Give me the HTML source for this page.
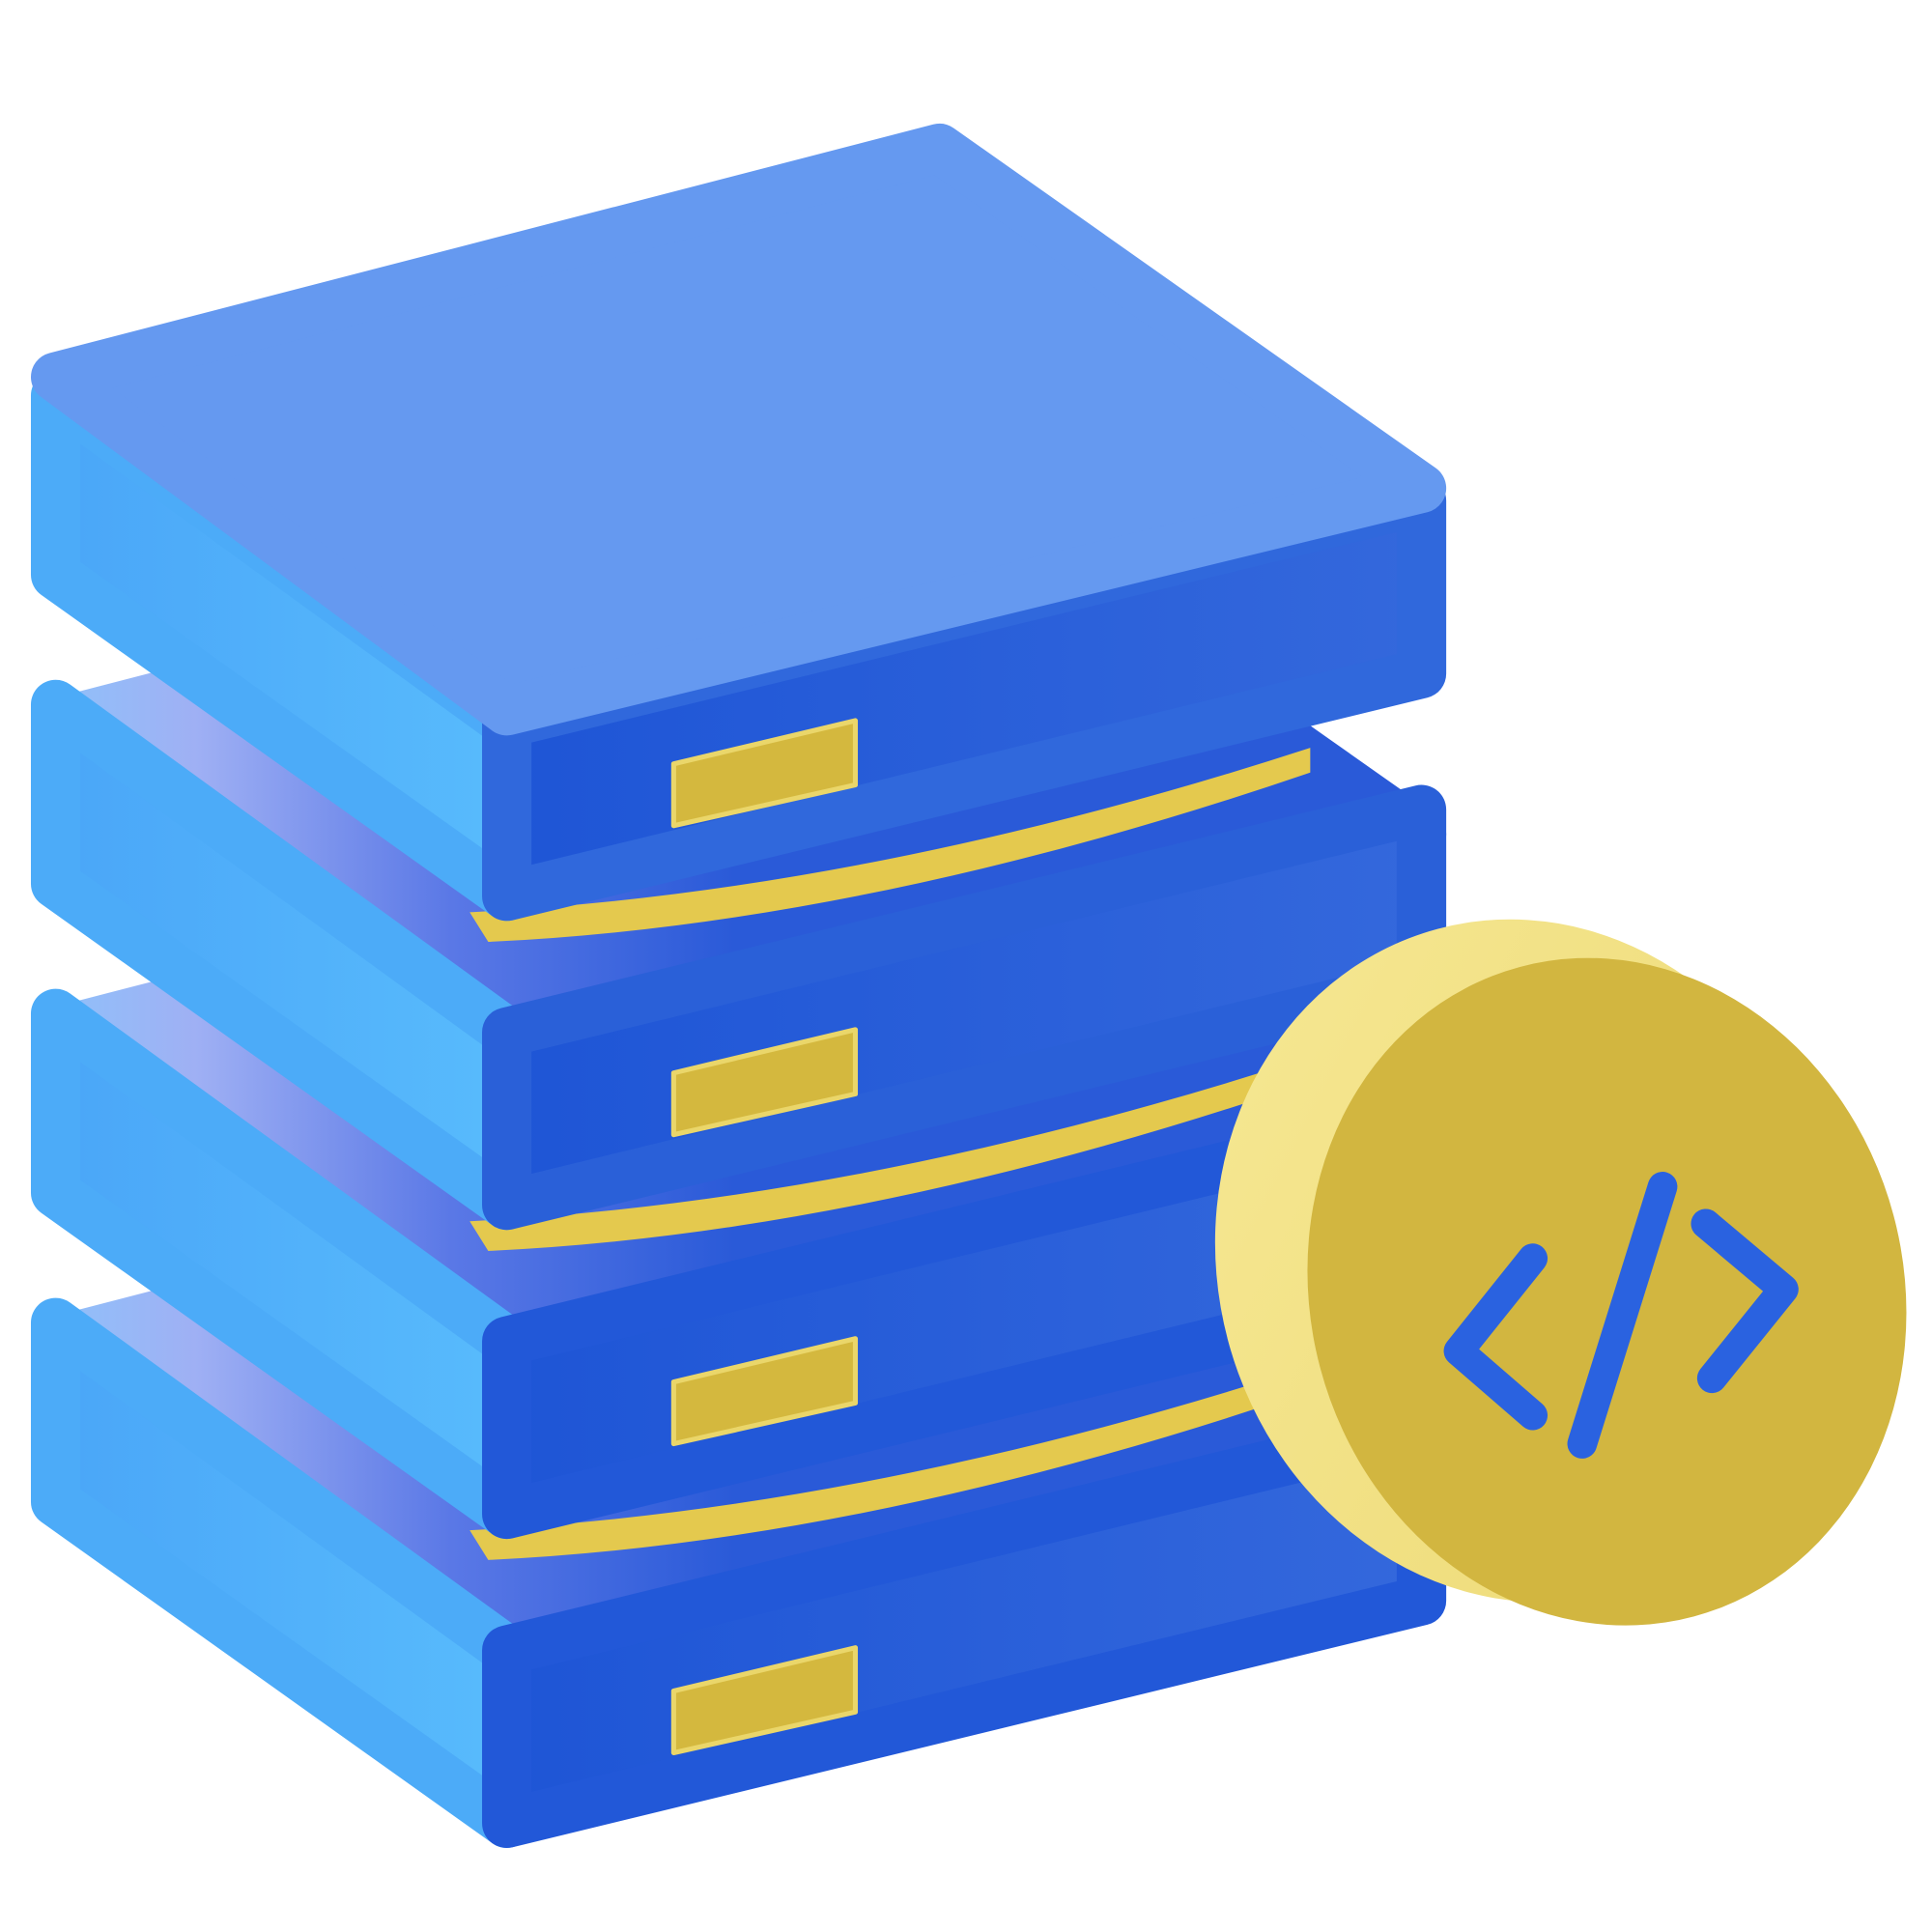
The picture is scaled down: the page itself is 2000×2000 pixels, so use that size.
<!DOCTYPE html>
<html><head><meta charset="utf-8"><style>html,body{margin:0;padding:0;background:#fff}svg{display:block}</style></head>
<body>
<svg width="2000" height="2000" viewBox="0 0 1563 1563" xmlns="http://www.w3.org/2000/svg">
<defs>
<linearGradient id="lf" x1="0" y1="0" x2="1" y2="0"><stop offset="0" stop-color="#4aa6f8"/><stop offset="1" stop-color="#58bbfc"/></linearGradient>
<linearGradient id="rf" x1="0" y1="0" x2="1" y2="0"><stop offset="0" stop-color="#1e55d6"/><stop offset="1" stop-color="#3468dc"/></linearGradient>
<linearGradient id="tf" gradientUnits="userSpaceOnUse" x1="20" y1="0" x2="1170" y2="0"><stop offset="0" stop-color="#8cc4fb"/><stop offset="0.12" stop-color="#9fb0f4"/><stop offset="0.3" stop-color="#5a78e6"/><stop offset="0.5" stop-color="#2a5ad8"/><stop offset="1" stop-color="#2a5ad8"/></linearGradient>
<linearGradient id="cs" x1="0" y1="0" x2="1" y2="1"><stop offset="0" stop-color="#f6e894"/><stop offset="1" stop-color="#ecd872"/></linearGradient>
</defs>
<g stroke-linejoin="round" stroke-width="40">
<g transform="translate(0,750)">
<polygon points="45,335 760,150 1150,425 410,605" fill="url(#tf)" stroke="url(#tf)"/>
<polygon points="45,320 410,585 410,725 45,465" fill="url(#lf)" stroke="#4cabf8"/>
<polygon points="410,585 1150,405 1150,545 410,725" fill="url(#rf)" stroke="#2258d8"/>
<polygon points="545,618 692,583 692,635 545,668" fill="#d4b83e" stroke="#ead66a" stroke-width="4"/>
</g>
<g transform="translate(0,500)">
<path d="M380,738 Q700,722 1060,605 L1060,625 Q700,748 395,762Z" fill="#e4c94e" stroke="none"/>
<polygon points="45,335 760,150 1150,425 410,605" fill="url(#tf)" stroke="url(#tf)"/>
<polygon points="45,320 410,585 410,725 45,465" fill="url(#lf)" stroke="#4cabf8"/>
<polygon points="410,585 1150,405 1150,545 410,725" fill="url(#rf)" stroke="#2258d8"/>
<polygon points="545,618 692,583 692,635 545,668" fill="#d4b83e" stroke="#ead66a" stroke-width="4"/>
</g>
<g transform="translate(0,250)">
<path d="M380,738 Q700,722 1060,605 L1060,625 Q700,748 395,762Z" fill="#e4c94e" stroke="none"/>
<polygon points="45,335 760,150 1150,425 410,605" fill="url(#tf)" stroke="url(#tf)"/>
<polygon points="45,320 410,585 410,725 45,465" fill="url(#lf)" stroke="#4cabf8"/>
<polygon points="410,585 1150,405 1150,545 410,725" fill="url(#rf)" stroke="#2a60d8"/>
<polygon points="545,618 692,583 692,635 545,668" fill="#d4b83e" stroke="#ead66a" stroke-width="4"/>
</g>
<g>
<path d="M380,738 Q700,722 1060,605 L1060,625 Q700,748 395,762Z" fill="#e4c94e" stroke="none"/>
<polygon points="45,320 410,585 410,725 45,465" fill="url(#lf)" stroke="#4cabf8"/>
<polygon points="410,585 1150,405 1150,545 410,725" fill="url(#rf)" stroke="#3068dc"/>
<polygon points="45,305 760,120 1150,395 410,575" fill="#6599f0" stroke="#6599f0"/>
<polygon points="545,618 692,583 692,635 545,668" fill="#d4b83e" stroke="#ead66a" stroke-width="4"/>
</g>
</g>
<ellipse cx="1235" cy="1020" rx="250" ry="278" transform="rotate(-15 1235 1020)" fill="url(#cs)"/>
<ellipse cx="1300" cy="1045" rx="240" ry="272" transform="rotate(-15 1300 1045)" fill="#d2b640"/>
<g stroke="#2a62e0" stroke-width="24" stroke-linecap="round" stroke-linejoin="round" fill="none">
<polyline points="1240,1018 1180,1093 1240,1145"/>
<line x1="1345" y1="960" x2="1280" y2="1168"/>
<polyline points="1380,990 1443,1043 1385,1115"/>
</g>
</svg>
</body></html>
